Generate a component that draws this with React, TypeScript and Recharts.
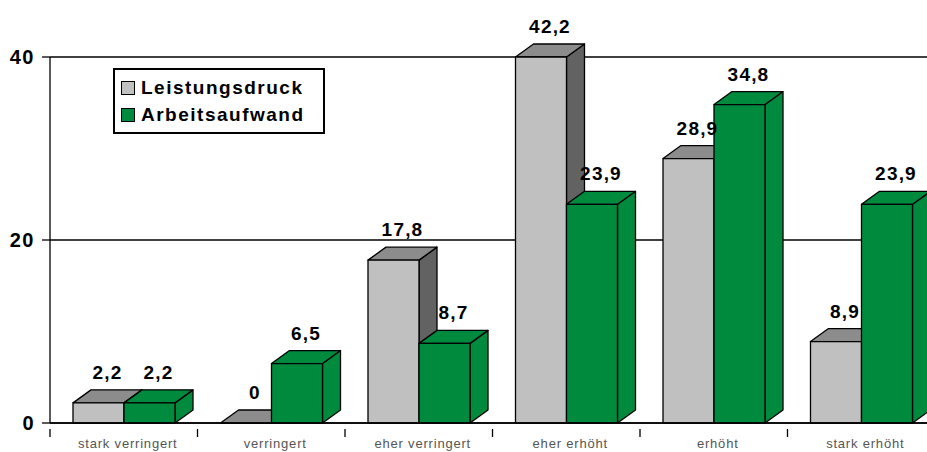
import React from 'react';
import { BarChart, Bar, XAxis, YAxis, CartesianGrid, Legend, LabelList } from 'recharts';

const categories = ['stark verringert', 'verringert', 'eher verringert', 'eher erhöht', 'erhöht', 'stark erhöht'];
const leistungsdruck = [2.2, 0, 17.8, 42.2, 28.9, 8.9];
const arbeitsaufwand = [2.2, 6.5, 8.7, 23.9, 34.8, 23.9];
const seriesNames = ['Leistungsdruck', 'Arbeitsaufwand'];
const yTicks = [0, 20, 40];
const Y_MAX = 40;

// 3D extrusion of every box
const DX = 18;
const DY = 13;

const FONT = '"Liberation Sans", Arial, sans-serif';

const data = categories.map((name, i) => ({
  name,
  leistung: leistungsdruck[i],
  aufwand: arbeitsaufwand[i],
}));

const fmt = (v: number) => String(v).replace('.', ',');

function makeBox(front: string, top: string, side: string) {
  return (props: any) => {
    const { x, y, width, height } = props;
    if (x == null || y == null) return null;
    const h = Math.max(0, height || 0);
    const w = width;
    const topPts = `${x},${y} ${x + DX},${y - DY} ${x + w + DX},${y - DY} ${x + w},${y}`;
    const sidePts = `${x + w},${y} ${x + w + DX},${y - DY} ${x + w + DX},${y + h - DY} ${x + w},${y + h}`;
    return (
      <g stroke="#000" strokeWidth={1.3} strokeLinejoin="round">
        {h > 0 && <polygon points={sidePts} fill={side} />}
        <polygon points={topPts} fill={top} />
        {h > 0 && <rect x={x} y={y} width={w} height={h} fill={front} />}
      </g>
    );
  };
}

const ValueLabel = (props: any) => {
  const { x, y, width, value } = props;
  if (value == null) return null;
  return (
    <text
      x={x + width / 2 + DX / 2}
      y={y - DY - 11}
      textAnchor="middle"
      fontFamily={FONT}
      fontWeight="bold"
      fontSize={19}
      letterSpacing={1.2}
      fill="#000"
    >
      {fmt(value)}
    </text>
  );
};

const CategoryTick = (props: any) => {
  const { x, y, payload } = props;
  const half = payload.offset || 0;
  return (
    <g>
      <line x1={x - half} x2={x - half} y1={y - 2} y2={y + 6} stroke="#000" strokeWidth={1.3} />
      <text
        x={x + 4}
        y={y + 17}
        textAnchor="middle"
        fontFamily={FONT}
        fontSize={13}
        letterSpacing={0.8}
        fill="#555"
      >
        {payload.value}
      </text>
    </g>
  );
};

const LegendBox = (props: any) => {
  const items = [...(props.payload || [])].sort(
    (a: any, b: any) => seriesNames.indexOf(a.value) - seriesNames.indexOf(b.value)
  );
  return (
    <div
      style={{
        border: '2px solid #000',
        background: '#fff',
        width: 202,
        padding: '4px 0 4px 6px',
        fontFamily: FONT,
        fontWeight: 'bold',
        fontSize: 19,
        letterSpacing: 1.5,
        lineHeight: '27px',
      }}
    >
      {items.map((p: any) => (
        <div key={p.value} style={{ display: 'flex', alignItems: 'center' }}>
          <span
            style={{
              display: 'inline-block',
              width: 12,
              height: 12,
              background: p.color,
              border: '1.5px solid #000',
              marginRight: 6,
            }}
          />
          {p.value}
        </div>
      ))}
    </div>
  );
};

export default function App() {
  return (
    <div
      style={{
        position: 'fixed',
        left: 0,
        top: 0,
        width: 927,
        height: 452,
        overflow: 'hidden',
        background: '#fff',
      }}
    >
      <BarChart
        width={941}
        height={452}
        data={data}
        margin={{ top: 57, right: 6, left: 0, bottom: 0 }}
        barCategoryGap={23}
        barGap={0}
      >
        <CartesianGrid vertical={false} stroke="#000" strokeWidth={1.3} />
        <XAxis
          dataKey="name"
          height={29}
          axisLine={{ stroke: '#000', strokeWidth: 1.3 }}
          tickLine={false}
          interval={0}
          tick={<CategoryTick />}
        />
        <YAxis
          width={50}
          domain={[0, Y_MAX]}
          ticks={yTicks}
          axisLine={{ stroke: '#000', strokeWidth: 1.3 }}
          tickLine={{ stroke: '#000', strokeWidth: 1.3 }}
          tickSize={8}
          tickMargin={7}
          tick={{ fontFamily: FONT, fontWeight: 'bold', fontSize: 20, fill: '#000', letterSpacing: 1.5 }}
        />
        <Legend
          content={<LegendBox />}
          layout="vertical"
          verticalAlign="middle"
          align="center"
          wrapperStyle={{ left: 113, top: 68, width: 'auto' }}
        />
        <Bar
          name="Leistungsdruck"
          dataKey={(d: any) => Math.min(d.leistung, Y_MAX)}
          fill="#c0c0c0"
          isAnimationActive={false}
          shape={makeBox('#c0c0c0', '#8c8c8c', '#626262')}
        >
          <LabelList dataKey="leistung" content={<ValueLabel />} />
        </Bar>
        <Bar
          name="Arbeitsaufwand"
          dataKey="aufwand"
          fill="#008a3e"
          isAnimationActive={false}
          shape={makeBox('#008a3e', '#008a3e', '#008a3e')}
        >
          <LabelList dataKey="aufwand" content={<ValueLabel />} />
        </Bar>
      </BarChart>
    </div>
  );
}
